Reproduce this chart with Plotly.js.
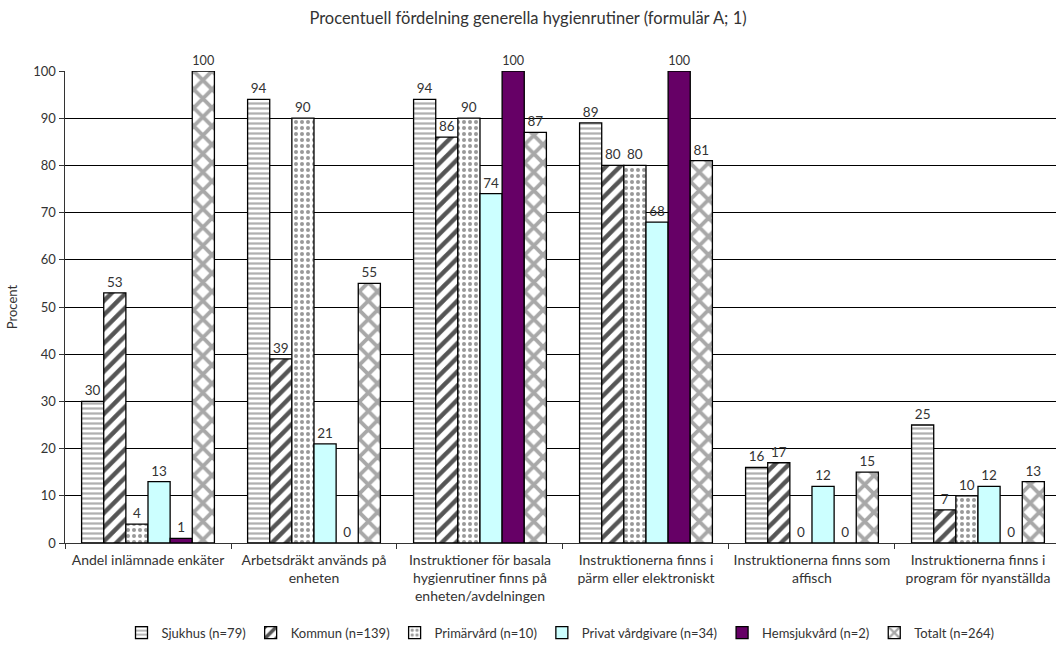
<!DOCTYPE html>
<html>
<head>
<meta charset="utf-8">
<script src="https://cdn.plot.ly/plotly-3.0.1.min.js"></script>
<style>html,body{margin:0;padding:0;background:#fff;}#chart{width:1056px;height:654px;}</style>
</head>
<body>
<div id="chart"></div>
<script>
const categories = [
  "Andel inlämnade enkäter",
  "Arbetsdräkt används på<br>enheten",
  "Instruktioner för basala<br>hygienrutiner finns på<br>enheten/avdelningen",
  "Instruktionerna finns i<br>pärm eller elektroniskt",
  "Instruktionerna finns som<br>affisch",
  "Instruktionerna finns i<br>program för nyanställda"
];
const seriesNames = ["Sjukhus (n=79)", "Kommun (n=139)", "Primärvård (n=10)", "Privat vårdgivare (n=34)", "Hemsjukvård (n=2)", "Totalt (n=264)"];
const sjukhus = [30, 94, 94, 89, 16, 25];
const kommun = [53, 39, 86, 80, 17, 7];
const primarvard = [4, 90, 90, 80, 0, 10];
const privat = [13, 21, 74, 68, 12, 12];
const hemsjukvard = [1, 0, 100, 100, 0, 0];
const totalt = [100, 55, 87, 81, 15, 13];
const yTicks = [0, 10, 20, 30, 40, 50, 60, 70, 80, 90, 100];

const seriesValues = [sjukhus, kommun, primarvard, privat, hemsjukvard, totalt];
const styles = [
  {color: "#ffffff", pattern: {shape: "-", fgcolor: "#b0b0b0", bgcolor: "#ffffff", size: 5, solidity: 0.45}},
  {color: "#ffffff", pattern: {shape: "/", fgcolor: "#555555", bgcolor: "#ffffff", size: 10, solidity: 0.45}},
  {color: "#ffffff", pattern: {shape: ".", fgcolor: "#999999", bgcolor: "#ffffff", size: 6, solidity: 0.35}},
  {color: "#ccffff"},
  {color: "#660066"},
  {color: "#ffffff", pattern: {shape: "x", fgcolor: "#a8a8a8", bgcolor: "#ffffff", size: 13, solidity: 0.5}}
];

const traces = seriesValues.map((vals, i) => ({
  type: "bar",
  name: seriesNames[i],
  x: categories,
  y: vals,
  text: vals.map(String),
  textposition: "outside",
  cliponaxis: false,
  textfont: {size: 13.5, color: "#333"},
  marker: Object.assign({line: {color: "#000", width: 1.3}}, styles[i])
}));

const layout = {
  width: 1056, height: 654,
  margin: {l: 65, r: 0, t: 71, b: 111},
  paper_bgcolor: "#fff", plot_bgcolor: "#fff",
  font: {family: "Lato, 'Open Sans', sans-serif", size: 13, color: "#333"},
  title: {text: "Procentuell fördelning generella hygienrutiner (formulär A; 1)", x: 0.5, xanchor: "center", y: 0.972, yanchor: "middle", font: {size: 16.5, color: "#333"}},
  barmode: "group",
  bargap: 0.2,
  bargroupgap: 0,
  showlegend: true,
  legend: {orientation: "h", x: 0.5, xanchor: "center", y: -0.19, yanchor: "middle", font: {size: 13, color: "#333"}, itemwidth: 30, traceorder: "normal"},
  xaxis: {
    type: "category",
    range: [-0.5, 5.47],
    showline: true, linecolor: "#333", linewidth: 1,
    ticks: "outside", tickson: "boundaries", ticklen: 5, tickcolor: "#333",
    ticklabelstandoff: 4,
    tickfont: {size: 14, color: "#333"},
    showgrid: false
  },
  yaxis: {
    range: [0, 100],
    tickvals: yTicks,
    showline: true, linecolor: "#333", linewidth: 1.5,
    ticks: "outside", ticklen: 5, tickcolor: "#333",
    showgrid: true, gridcolor: "#000", gridwidth: 1,
    zeroline: false,
    tickfont: {size: 13, color: "#333"},
    title: {text: "Procent", font: {size: 13, color: "#333"}, standoff: 12}
  }
};

Plotly.newPlot("chart", traces, layout, {displayModeBar: false, staticPlot: true});
</script>
</body>
</html>
